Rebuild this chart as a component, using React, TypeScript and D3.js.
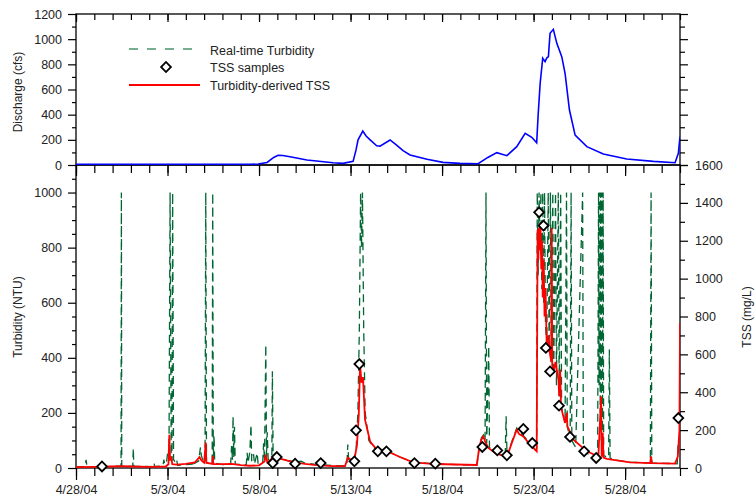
import React, { useEffect, useRef } from "react";
import * as d3 from "d3";

// time is kept as days after 4/28/04 00:00
const startDate = new Date(2004, 3, 28);
const endDate = new Date(2004, 4, 31);

// discharge (cfs)
const discharge: [number, number][] = [
  [0, 5], [5, 5], [9.5, 5], [9.95, 8], [10.44, 20], [10.8, 60], [11.04, 77], [11.3, 75],
  [11.69, 66], [12.62, 40], [14.04, 18], [14.59, 13], [15.14, 29], [15.3, 120], [15.41, 200],
  [15.67, 270], [15.85, 230], [16.07, 200], [16.43, 153], [16.61, 150], [17.16, 199],
  [17.5, 160], [17.87, 114], [18.25, 80], [19.18, 45], [20.05, 21], [20.98, 13], [21.97, 10],
  [22.5, 60], [22.99, 98], [23.54, 74], [24.08, 146], [24.54, 252], [24.9, 220], [25.17, 177],
  [25.25, 400], [25.36, 650], [25.5, 848], [25.63, 821], [25.72, 850], [25.81, 861], [25.9, 1047],
  [26.08, 1078], [26.27, 967], [26.54, 861], [26.72, 729], [26.96, 437], [27.27, 238],
  [27.91, 146], [28.81, 87], [30.09, 48], [31.55, 29], [32.73, 18], [32.91, 93], [33, 225],
];

// real-time turbidity (NTU)
const turbidity: [number, number][] = [
  [0, 4], [0.5, 5], [0.55, 30], [0.6, 5], [1.4, 4], [2.0, 6], [2.46, 7], [2.48, 1000], [2.5, 7],
  [3.1, 6], [3.13, 72], [3.16, 6], [4.2, 5], [4.26, 20], [4.3, 5], [4.75, 8], [4.8, 30], [4.85, 12],
  [4.95, 25], [5.02, 60], [5.08, 40], [5.14, 1000], [5.2, 50], [5.24, 25], [5.28, 1000], [5.33, 30],
  [5.45, 20], [5.5, 30], [5.55, 10], [6.0, 12], [6.35, 14], [6.4, 30], [6.45, 16], [6.7, 25],
  [6.8, 75], [6.85, 45], [6.95, 25], [7.05, 20], [7.09, 1000], [7.13, 18], [7.44, 15], [7.47, 1000],
  [7.5, 18], [7.54, 120], [7.58, 18], [8.0, 12], [8.45, 15], [8.5, 80], [8.55, 30], [8.58, 188],
  [8.62, 40], [8.66, 150], [8.7, 14], [9.3, 12], [9.35, 55], [9.4, 18], [9.5, 60], [9.56, 157],
  [9.6, 25], [9.7, 50], [9.75, 14], [9.9, 55], [9.95, 14], [10.2, 20], [10.25, 90], [10.3, 25],
  [10.37, 448], [10.41, 40], [10.45, 130], [10.5, 30], [10.7, 40], [10.73, 351], [10.77, 40],
  [11.0, 35], [11.5, 28], [12.0, 22], [12.3, 25], [12.5, 18], [13.0, 14], [13.5, 11], [14.0, 9],
  [14.5, 8], [14.8, 10], [14.85, 85], [14.9, 25], [15.2, 30], [15.3, 60], [15.4, 200], [15.48, 500],
  [15.55, 1000], [15.6, 800], [15.65, 1000], [15.72, 500], [15.8, 200], [16.0, 100], [16.3, 70],
  [16.7, 63], [17.2, 56], [17.7, 40], [18.4, 22], [19.6, 15], [21.0, 12], [21.9, 11], [22.04, 80],
  [22.15, 110], [22.26, 120], [22.35, 100], [22.4, 1000], [22.44, 90], [22.55, 442], [22.59, 75],
  [22.9, 55], [23.45, 42], [23.5, 188], [23.55, 42], [23.81, 95], [24.08, 145], [24.2, 130],
  [24.44, 118], [24.81, 88], [25.17, 62], [25.2, 1000], [25.25, 700], [25.3, 1000], [25.35, 800],
  [25.4, 1000], [25.45, 650], [25.5, 1000], [25.55, 600], [25.6, 1000], [25.65, 520], [25.72, 450],
  [25.8, 1000], [25.85, 420], [25.92, 1000], [25.97, 380], [26.05, 1000], [26.1, 340], [26.2, 1000],
  [26.25, 300], [26.35, 1000], [26.4, 260], [26.48, 1000], [26.53, 220], [26.72, 165], [26.8, 1000],
  [26.84, 150], [27.0, 110], [27.05, 1000], [27.09, 100], [27.3, 75], [27.68, 1000], [27.72, 62],
  [28.0, 50], [28.5, 42], [28.55, 1000], [28.58, 300], [28.61, 1000], [28.64, 200], [28.67, 1000],
  [28.7, 100], [28.73, 1000], [28.76, 60], [28.8, 1000], [28.83, 45], [29.1, 38], [29.14, 430],
  [29.18, 36], [29.6, 28], [30.3, 21], [31.38, 18], [31.42, 1000], [31.46, 18], [32.7, 16],
  [32.85, 15], [32.9, 90], [33, 100],
];

// turbidity-derived TSS (mg/L)
const derivedTss: [number, number][] = [
  [0, 5], [1, 6], [2, 8], [2.5, 10], [3, 8], [4, 6], [4.9, 8], [5.05, 20], [5.1, 176], [5.14, 40],
  [5.2, 60], [5.26, 20], [5.5, 18], [6.0, 22], [6.5, 30], [6.75, 58], [6.85, 40], [7.0, 28],
  [7.09, 135], [7.12, 28], [7.45, 22], [7.47, 65], [7.5, 22], [8.0, 20], [8.5, 22], [9.0, 15],
  [9.5, 12], [10.0, 14], [10.3, 35], [10.37, 70], [10.45, 30], [10.6, 40], [10.8, 60], [11.2, 48],
  [11.8, 32], [12.5, 22], [13.0, 16], [14.0, 10], [14.7, 10], [14.85, 55], [15.0, 45], [15.2, 40],
  [15.35, 120], [15.45, 280], [15.52, 546], [15.6, 450], [15.68, 480], [15.79, 255], [16.07, 140],
  [16.43, 97], [16.89, 91], [17.16, 82], [17.7, 58], [18.42, 30], [19.62, 21], [21.9, 16],
  [22.04, 114], [22.15, 150], [22.26, 167], [22.35, 140], [22.53, 106], [22.9, 79], [23.54, 58],
  [23.81, 132], [24.08, 202], [24.2, 180], [24.44, 167], [24.81, 123], [25.17, 88], [25.22, 1259],
  [25.26, 1100], [25.3, 1270], [25.34, 1150], [25.38, 1276], [25.42, 1050], [25.46, 1200],
  [25.5, 900], [25.55, 1100], [25.6, 800], [25.65, 950], [25.72, 642], [25.8, 700], [25.9, 600],
  [25.97, 560], [25.99, 1268], [26.02, 540], [26.08, 502], [26.2, 560], [26.36, 466], [26.4, 380],
  [26.45, 520], [26.5, 320], [26.72, 238], [26.81, 292], [26.85, 220], [27.18, 150], [27.91, 88],
  [28.54, 61], [28.69, 378], [28.72, 60], [28.78, 186], [28.82, 55], [29.0, 48], [29.55, 40],
  [30.27, 30], [31.37, 26], [31.42, 61], [31.46, 26], [32.73, 23], [32.88, 60], [32.97, 202],
  [33, 766],
];

// TSS samples (mg/L)
const tssSamples: [number, number][] = [
  [1.42, 8], [10.75, 26], [10.97, 58], [11.97, 23], [13.37, 26], [15.21, 35], [15.3, 199],
  [15.48, 549], [16.49, 88], [16.96, 88], [18.49, 26], [19.63, 23], [22.2, 111], [23.02, 93],
  [23.54, 67], [24.44, 206], [24.93, 132], [25.3, 1350], [25.54, 1280], [25.67, 634], [25.9, 510],
  [26.39, 329], [26.99, 164], [27.76, 88], [28.42, 53], [32.91, 264],
];

const dischargeTicks = [0, 200, 400, 600, 800, 1000, 1200];
const turbidityTicks = [0, 200, 400, 600, 800, 1000];
const tssTicks = [0, 200, 400, 600, 800, 1000, 1200, 1400, 1600];
const dateLabels = ["4/28/04", "5/3/04", "5/8/04", "5/13/04", "5/18/04", "5/23/04", "5/28/04"];

const FONT = "'Liberation Sans', Arial, sans-serif";
const day = (d: number) => new Date(startDate.getTime() + d * 864e5);

const App = () => {
  const ref = useRef<SVGSVGElement>(null);

  useEffect(() => {
    const svg = d3.select(ref.current);
    svg.selectAll("*").remove();

    const L = 76, R = 680, T1 = 14, B1 = 165, B2 = 468;

    const x = d3.scaleTime().domain([startDate, endDate]).range([L, R]);
    const yQ = d3.scaleLinear().domain([0, 1200]).range([B1, T1]);
    const yTurb = d3.scaleLinear().domain([0, 1100]).range([B2, B1]);
    const yTss = d3.scaleLinear().domain([0, 1600]).range([B2, B1]);

    const parse = d3.timeParse("%m/%d/%y");
    const majorDates = dateLabels.map((s) => parse(s) as Date);
    const fmt = d3.timeFormat("%-m/%-d/%y");
    const num = d3.format("d");
    const allDays = d3.timeDay.range(startDate, d3.timeDay.offset(endDate, 1));

    const defs = svg.append("defs");
    defs.append("clipPath").attr("id", "clipTop")
      .append("rect").attr("x", L).attr("y", T1).attr("width", R - L).attr("height", B1 - T1);
    defs.append("clipPath").attr("id", "clipBot")
      .append("rect").attr("x", L).attr("y", B1).attr("width", R - L).attr("height", B2 - B1);

    const axis = (gen: any, tx: number, ty: number, labels: boolean) => {
      const g = svg.append("g").attr("transform", `translate(${tx},${ty})`).call(gen);
      g.select(".domain").remove();
      g.attr("font-family", FONT).attr("font-size", 12.5).attr("color", "#000");
      g.selectAll("text").attr("fill", "#222");
      if (!labels) g.selectAll("text").remove();
      g.selectAll("line").attr("stroke-width", 1.2);
      return g;
    };

    // top panel axes
    axis(d3.axisLeft(yQ).tickValues(dischargeTicks).tickSize(8).tickPadding(6).tickFormat(num as any), L, 0, true);
    axis(d3.axisLeft(yQ).tickValues(d3.range(100, 1200, 200)).tickSize(4), L, 0, false);
    axis(d3.axisRight(yQ).tickValues(dischargeTicks).tickSize(8), R, 0, false);
    axis(d3.axisRight(yQ).tickValues(d3.range(100, 1200, 200)).tickSize(5), R, 0, false);
    axis(d3.axisBottom(x).tickValues(allDays).tickSize(6), 0, T1, false);
    axis(d3.axisBottom(x).tickValues(majorDates).tickSize(8), 0, T1, false);

    // bottom panel axes
    axis(d3.axisLeft(yTurb).tickValues(turbidityTicks).tickSize(8).tickPadding(6).tickFormat(num as any), L, 0, true);
    axis(d3.axisLeft(yTurb).tickValues(d3.range(50, 1100, 50).filter((v) => v % 200 !== 0)).tickSize(4), L, 0, false);
    axis(d3.axisRight(yTss).tickValues(tssTicks).tickSize(8).tickPadding(7).tickFormat(num as any), R, 0, true);
    axis(d3.axisRight(yTss).tickValues(d3.range(100, 1600, 200)).tickSize(5), R, 0, false);
    axis(d3.axisBottom(x).tickValues(allDays).tickSize(8), 0, B1, false);
    axis(d3.axisBottom(x).tickValues(majorDates).tickSize(11), 0, B1, false);
    axis(d3.axisBottom(x).tickValues(allDays).tickSize(8), 0, B2, false);
    axis(d3.axisBottom(x).tickValues(majorDates).tickSize(12).tickPadding(5).tickFormat(fmt as any), 0, B2, true);

    // frames
    svg.append("rect").attr("x", L).attr("y", T1).attr("width", R - L).attr("height", B1 - T1)
      .attr("fill", "none").attr("stroke", "#000").attr("stroke-width", 1.3);
    svg.append("rect").attr("x", L).attr("y", B1).attr("width", R - L).attr("height", B2 - B1)
      .attr("fill", "none").attr("stroke", "#000").attr("stroke-width", 1.3);

    // discharge
    svg.append("path").attr("clip-path", "url(#clipTop)")
      .attr("d", d3.line<[number, number]>().x((d) => x(day(d[0]))).y((d) => yQ(d[1]))(discharge))
      .attr("fill", "none").attr("stroke", "#0000ff").attr("stroke-width", 1.6);

    const bot = svg.append("g").attr("clip-path", "url(#clipBot)");
    bot.append("path")
      .attr("d", d3.line<[number, number]>().x((d) => x(day(d[0]))).y((d) => yTurb(d[1]))(turbidity))
      .attr("fill", "none").attr("stroke", "#006633").attr("stroke-width", 1.3)
      .attr("stroke-dasharray", "8,5");
    bot.append("path")
      .attr("d", d3.line<[number, number]>().x((d) => x(day(d[0]))).y((d) => yTss(d[1]))(derivedTss))
      .attr("fill", "none").attr("stroke", "#ff0000").attr("stroke-width", 1.8);

    const diamond = d3.symbol().type(d3.symbolSquare).size(48);
    svg.append("g").selectAll("path").data(tssSamples).enter().append("path")
      .attr("d", diamond as any)
      .attr("transform", (d) => `translate(${x(day(d[0]))},${yTss(d[1])}) rotate(45)`)
      .attr("fill", "#fff").attr("stroke", "#000").attr("stroke-width", 1.8);

    // legend
    const lg = svg.append("g").attr("font-family", FONT).attr("font-size", 12.5).attr("fill", "#222");
    lg.append("line").attr("x1", 129).attr("x2", 200).attr("y1", 49).attr("y2", 49)
      .attr("stroke", "#006633").attr("stroke-width", 1.3).attr("stroke-dasharray", "9,9").attr("opacity", 0.7);
    lg.append("text").attr("x", 210).attr("y", 54.5).text("Real-time Turbidity");
    lg.append("path").attr("d", diamond as any).attr("transform", "translate(166,67) rotate(45)")
      .attr("fill", "#fff").attr("stroke", "#000").attr("stroke-width", 1.8);
    lg.append("text").attr("x", 210).attr("y", 72).text("TSS samples");
    lg.append("line").attr("x1", 129).attr("x2", 200).attr("y1", 85).attr("y2", 85)
      .attr("stroke", "#ff0000").attr("stroke-width", 1.8);
    lg.append("text").attr("x", 210).attr("y", 89.5).text("Turbidity-derived TSS");

    // axis titles
    const title = (t: string, tx: number, ty: number) =>
      svg.append("text").attr("transform", `translate(${tx},${ty}) rotate(-90)`)
        .attr("text-anchor", "middle").attr("font-family", FONT).attr("font-size", 12)
        .attr("fill", "#222").text(t);
    title("Discharge (cfs)", 22, 92);
    title("Turbidity (NTU)", 22, 317);
    title("TSS (mg/L)", 751, 317);
  }, []);

  return (
    <div style={{ position: "absolute", left: 0, top: 0 }}>
      <svg ref={ref} width={755} height={498} style={{ display: "block", background: "#fff" }} />
    </div>
  );
};

export default App;
